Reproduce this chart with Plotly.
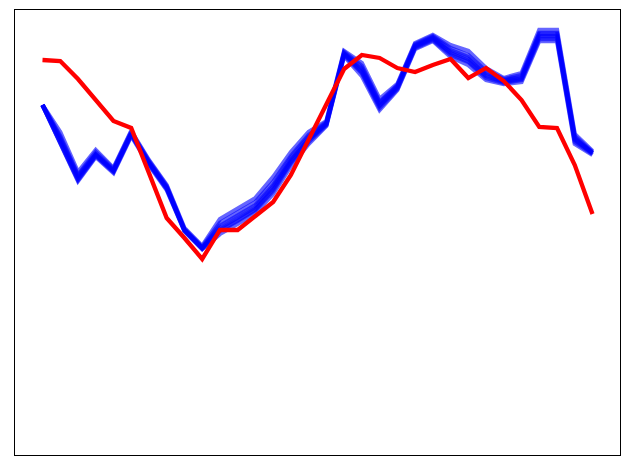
import plotly.graph_objects as go

# x positions (sample index)
x = list(range(32))

# observed series (red), arbitrary units
observed = [395, 394, 376, 355, 334, 327, 283, 237, 217, 196, 225, 225, 239, 253, 280, 316,
            351, 386, 400, 397, 387, 383, 390, 396, 377, 387, 374, 355, 328, 327, 290, 241]

# ensemble members (blue), arbitrary units
member_1 = [350, 315, 277, 300, 284, 321, 292, 267, 225, 207, 227, 237, 248, 268, 295, 316,
            331, 401, 385, 350, 368, 409, 417, 403, 396, 380, 374, 377, 419, 419, 316, 302]
member_2 = [350, 319, 280, 303, 286, 323, 294, 269, 226, 208, 232, 242, 253, 273, 299, 320,
            333, 403, 389, 353, 370, 411, 419, 407, 400, 384, 376, 380, 422, 422, 319, 303]
member_3 = [350, 313, 275, 299, 283, 320, 291, 266, 224, 206, 224, 234, 245, 264, 292, 313,
            330, 400, 382, 347, 366, 407, 415, 400, 393, 377, 372, 375, 416, 416, 313, 301]
member_4 = [350, 323, 283, 305, 287, 324, 295, 270, 227, 209, 236, 246, 257, 278, 303, 323,
            334, 404, 392, 356, 371, 412, 420, 410, 404, 387, 377, 382, 425, 425, 321, 304]
member_5 = [350, 311, 274, 298, 282, 319, 290, 265, 224, 206, 221, 231, 242, 261, 289, 311,
            329, 399, 379, 345, 365, 406, 414, 398, 390, 375, 371, 373, 414, 414, 311, 300]
member_6 = [350, 317, 279, 301, 285, 322, 293, 268, 225, 207, 229, 239, 250, 270, 297, 318,
            332, 402, 387, 352, 369, 410, 418, 405, 398, 382, 375, 378, 421, 421, 317, 302]
member_7 = [350, 314, 276, 300, 284, 321, 292, 267, 225, 207, 225, 235, 246, 266, 293, 315,
            331, 401, 383, 349, 367, 408, 416, 402, 394, 379, 373, 376, 418, 418, 315, 302]

members = [member_4, member_5, member_2, member_3, member_6, member_7, member_1]

fig = go.Figure()
for m in members:
    fig.add_trace(go.Scatter(x=x, y=m, mode="lines",
                             line=dict(color="#0000ff", width=4.3),
                             opacity=0.6, hoverinfo="skip"))
fig.add_trace(go.Scatter(x=x, y=observed, mode="lines",
                         line=dict(color="#ff0000", width=4.3)))

axis_common = dict(showticklabels=False, ticks="", showgrid=False, zeroline=False,
                   showline=True, linecolor="black", linewidth=1.3, mirror=True)
fig.update_layout(
    width=630, height=470,
    margin=dict(l=7, r=18, t=2, b=23),
    paper_bgcolor="white", plot_bgcolor="white",
    showlegend=False,
    xaxis=dict(range=[-1.55, 32.55], **axis_common),
    yaxis=dict(range=[0, 445], **axis_common),
)
fig.write_html("out.html")
